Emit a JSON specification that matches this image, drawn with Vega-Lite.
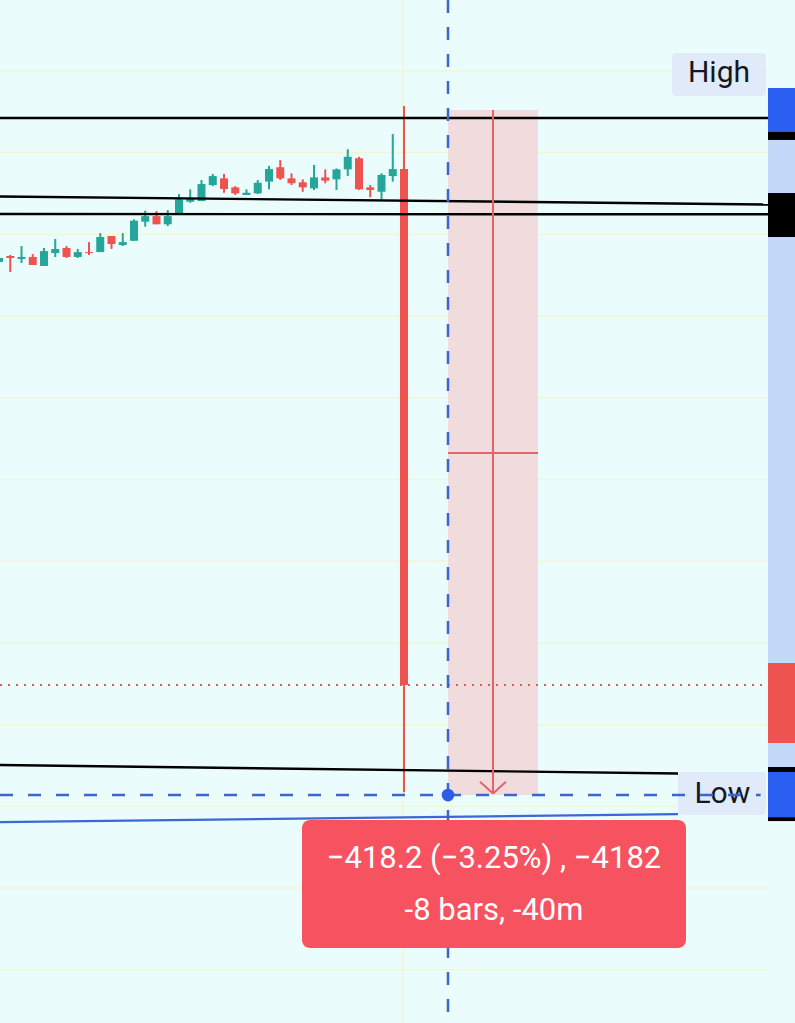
{
  "$schema": "https://vega.github.io/schema/vega-lite/v6.json",
  "width": 795,
  "height": 1023,
  "autosize": {"type": "none"},
  "padding": 0,
  "background": "#ebfcfc",
  "config": {"view": {"stroke": null}, "font": "Roboto"},
  "datasets": {
    "candles": [
      {"i": -36, "o": 12783.1, "h": 12786.8, "l": 12782.5, "c": 12785.6},
      {"i": -35, "o": 12786.8, "h": 12787.4, "l": 12777.0, "c": 12785.6},
      {"i": -34, "o": 12785.0, "h": 12792.9, "l": 12782.5, "c": 12786.2},
      {"i": -33, "o": 12786.2, "h": 12788.0, "l": 12781.3, "c": 12781.3},
      {"i": -32, "o": 12780.7, "h": 12791.7, "l": 12780.7, "c": 12789.8},
      {"i": -31, "o": 12788.6, "h": 12797.2, "l": 12786.2, "c": 12791.1},
      {"i": -30, "o": 12791.7, "h": 12792.9, "l": 12785.6, "c": 12786.2},
      {"i": -29, "o": 12786.2, "h": 12791.1, "l": 12785.6, "c": 12789.2},
      {"i": -28, "o": 12789.2, "h": 12795.3, "l": 12787.4, "c": 12788.6},
      {"i": -27, "o": 12789.2, "h": 12800.8, "l": 12789.2, "c": 12798.4},
      {"i": -26, "o": 12799.0, "h": 12799.0, "l": 12791.1, "c": 12794.1},
      {"i": -25, "o": 12793.5, "h": 12800.8, "l": 12792.9, "c": 12795.3},
      {"i": -24, "o": 12796.1, "h": 12809.2, "l": 12796.1, "c": 12808.4},
      {"i": -23, "o": 12807.8, "h": 12814.5, "l": 12804.7, "c": 12811.2},
      {"i": -22, "o": 12811.2, "h": 12814.3, "l": 12806.2, "c": 12806.2},
      {"i": -21, "o": 12806.2, "h": 12814.9, "l": 12805.1, "c": 12811.2},
      {"i": -20, "o": 12812.9, "h": 12824.7, "l": 12812.9, "c": 12821.5},
      {"i": -19, "o": 12820.0, "h": 12827.6, "l": 12819.4, "c": 12822.1},
      {"i": -18, "o": 12820.4, "h": 12833.3, "l": 12820.4, "c": 12830.8},
      {"i": -17, "o": 12830.2, "h": 12837.0, "l": 12829.6, "c": 12835.7},
      {"i": -16, "o": 12834.3, "h": 12837.0, "l": 12825.5, "c": 12827.8},
      {"i": -15, "o": 12828.8, "h": 12829.6, "l": 12824.1, "c": 12825.1},
      {"i": -14, "o": 12824.1, "h": 12827.6, "l": 12824.1, "c": 12825.5},
      {"i": -13, "o": 12825.1, "h": 12833.3, "l": 12824.7, "c": 12831.6},
      {"i": -12, "o": 12832.3, "h": 12841.9, "l": 12827.6, "c": 12840.0},
      {"i": -11, "o": 12841.1, "h": 12845.5, "l": 12833.3, "c": 12834.3},
      {"i": -10, "o": 12834.3, "h": 12837.4, "l": 12830.2, "c": 12831.3},
      {"i": -9, "o": 12831.9, "h": 12833.7, "l": 12826.1, "c": 12828.8},
      {"i": -8, "o": 12828.2, "h": 12842.5, "l": 12827.2, "c": 12834.9},
      {"i": -7, "o": 12834.9, "h": 12839.8, "l": 12831.3, "c": 12832.9},
      {"i": -6, "o": 12833.7, "h": 12840.4, "l": 12827.2, "c": 12839.8},
      {"i": -5, "o": 12839.8, "h": 12852.1, "l": 12835.7, "c": 12847.5},
      {"i": -4, "o": 12846.6, "h": 12847.5, "l": 12827.2, "c": 12827.6},
      {"i": -3, "o": 12828.8, "h": 12830.2, "l": 12822.7, "c": 12827.2},
      {"i": -2, "o": 12826.1, "h": 12837.4, "l": 12821.5, "c": 12836.4},
      {"i": -1, "o": 12835.7, "h": 12861.4, "l": 12832.3, "c": 12840.0},
      {"i": 0, "o": 12840.0, "h": 12878.6, "l": 12458.7, "c": 12524.2}
    ],
    "grid": [
      {"p": 12900}, {"p": 12850}, {"p": 12800}, {"p": 12750}, {"p": 12700}, {"p": 12650},
      {"p": 12600}, {"p": 12550}, {"p": 12500}, {"p": 12450}, {"p": 12400}, {"p": 12350}
    ],
    "trend": [
      {"line": "a", "i": -35.911, "p": 12871.2, "i2": 32.356, "p2": 12871.2},
      {"line": "b", "i": -35.911, "p": 12823.2, "i2": 32.356, "p2": 12818.3},
      {"line": "c", "i": -35.911, "p": 12812.5, "i2": 32.356, "p2": 12812.3},
      {"line": "d", "i": -35.911, "p": 12475.3, "i2": 24.356, "p2": 12470.1}
    ],
    "measure": [
      {"part": "stem", "i": 7.911, "p": 12876.1, "i2": 7.911, "p2": 12457.9},
      {"part": "mid", "i": 3.911, "p": 12666.2, "i2": 11.911, "p2": 12666.2},
      {"part": "arrowL", "i": 6.756, "p": 12465.0, "i2": 7.911, "p2": 12457.9},
      {"part": "arrowR", "i": 9.067, "p": 12465.0, "i2": 7.911, "p2": 12457.9}
    ],
    "scale": [
      {"part": "track", "i": 32.356, "i2": 34.756, "p": 12889.6, "p2": 12441.0},
      {"part": "high", "i": 32.356, "i2": 34.756, "p": 12889.6, "p2": 12862.7},
      {"part": "black", "i": 32.356, "i2": 34.756, "p": 12862.7, "p2": 12857.8},
      {"part": "black", "i": 32.356, "i2": 34.756, "p": 12825.3, "p2": 12798.4},
      {"part": "close", "i": 32.356, "i2": 34.756, "p": 12537.7, "p2": 12488.7},
      {"part": "black", "i": 32.356, "i2": 34.756, "p": 12474.1, "p2": 12471.0},
      {"part": "low", "i": 32.356, "i2": 34.756, "p": 12471.0, "p2": 12443.4},
      {"part": "black", "i": 32.356, "i2": 34.756, "p": 12443.4, "p2": 12441.0}
    ],
    "tags": [
      {"label": "High", "i": 23.822, "i2": 32.178, "p": 12911.0, "p2": 12884.7, "ti": 28.0, "tp": 12898.5},
      {"label": "Low", "i": 24.356, "i2": 32.178, "p": 12471.0, "p2": 12444.7, "ti": 28.3, "tp": 12457.5}
    ],
    "info": [
      {"i": -9.067, "i2": 25.067, "p": 12441.6, "p2": 12363.3}
    ],
    "infoText": [
      {"text": "−418.2 (−3.25%) , −4182", "i": 8.0, "p": 12417.7},
      {"text": "-8 bars, -40m", "i": 8.0, "p": 12385.9}
    ]
  },
  "layer": [
    {
      "data": {"name": "grid"},
      "mark": {"type": "rule", "color": "#f1f6d3", "strokeWidth": 1.5},
      "encoding": {
        "y": {"field": "p", "type": "quantitative", "scale": {"domain": [12317.43, 12943.45], "nice": false, "zero": false, "padding": 0}, "axis": null},
        "x": {"datum": -35.911, "type": "quantitative", "scale": {"domain": [-35.911, 34.756], "nice": false, "zero": false, "padding": 0}, "axis": null},
        "x2": {"datum": 32.356}
      }
    },
    {
      "data": {"values": [{"i": -0.09}]},
      "mark": {"type": "rule", "color": "#f1f4d6", "strokeWidth": 1.5},
      "encoding": {
        "x": {"field": "i", "type": "quantitative"},
        "y": {"datum": 12317.43, "type": "quantitative"},
        "y2": {"datum": 12943.45}
      }
    },
    {
      "data": {"values": [{"i": 3.911, "i2": 11.911, "p": 12876.1, "p2": 12456.9}]},
      "mark": {"type": "rect", "color": "#f0dcdc"},
      "encoding": {
        "x": {"field": "i", "type": "quantitative"},
        "x2": {"field": "i2"},
        "y": {"field": "p", "type": "quantitative"},
        "y2": {"field": "p2"}
      }
    },
    {
      "data": {"name": "candles"},
      "mark": {"type": "rule", "strokeWidth": 2},
      "encoding": {
        "x": {"field": "i", "type": "quantitative"},
        "y": {"field": "l", "type": "quantitative"},
        "y2": {"field": "h"},
        "color": {"condition": {"test": "datum.c >= datum.o", "value": "#26a69a"}, "value": "#ef5350"}
      }
    },
    {
      "data": {"name": "candles"},
      "mark": {"type": "bar", "size": 8},
      "encoding": {
        "x": {"field": "i", "type": "quantitative"},
        "y": {"field": "o", "type": "quantitative"},
        "y2": {"field": "c"},
        "color": {"condition": {"test": "datum.c >= datum.o", "value": "#26a69a"}, "value": "#ef5350"}
      }
    },
    {
      "data": {"name": "trend"},
      "mark": {"type": "rule", "color": "#000000", "strokeWidth": 2.4},
      "encoding": {
        "x": {"field": "i", "type": "quantitative"},
        "x2": {"field": "i2"},
        "y": {"field": "p", "type": "quantitative"},
        "y2": {"field": "p2"}
      }
    },
    {
      "data": {"values": [{"i": -35.911, "p": 12440.4, "i2": 24.356, "p2": 12445.3}]},
      "mark": {"type": "rule", "color": "#3a68d4", "strokeWidth": 2.2},
      "encoding": {
        "x": {"field": "i", "type": "quantitative"},
        "x2": {"field": "i2"},
        "y": {"field": "p", "type": "quantitative"},
        "y2": {"field": "p2"}
      }
    },
    {
      "data": {"values": [{"i": -35.911, "i2": 32.356, "p": 12524.2}]},
      "mark": {"type": "rule", "color": "#e0575c", "strokeWidth": 2, "strokeDash": [2, 6]},
      "encoding": {
        "x": {"field": "i", "type": "quantitative"},
        "x2": {"field": "i2"},
        "y": {"field": "p", "type": "quantitative"}
      }
    },
    {
      "data": {"name": "measure"},
      "mark": {"type": "rule", "color": "#e6616a", "strokeWidth": 2},
      "encoding": {
        "x": {"field": "i", "type": "quantitative"},
        "x2": {"field": "i2"},
        "y": {"field": "p", "type": "quantitative"},
        "y2": {"field": "p2"}
      }
    },
    {
      "data": {"name": "scale"},
      "mark": {"type": "rect"},
      "encoding": {
        "x": {"field": "i", "type": "quantitative"},
        "x2": {"field": "i2"},
        "y": {"field": "p", "type": "quantitative"},
        "y2": {"field": "p2"},
        "color": {
          "field": "part",
          "type": "nominal",
          "scale": {"domain": ["track", "high", "black", "close", "low"], "range": ["#c3d9fa", "#2a5ff2", "#000000", "#ef5350", "#2a5ff2"]},
          "legend": null
        }
      }
    },
    {
      "data": {"name": "tags"},
      "mark": {"type": "rect", "color": "#e1eaf8", "cornerRadius": 4},
      "encoding": {
        "x": {"field": "i", "type": "quantitative"},
        "x2": {"field": "i2"},
        "y": {"field": "p", "type": "quantitative"},
        "y2": {"field": "p2"}
      }
    },
    {
      "data": {"name": "tags"},
      "mark": {"type": "text", "color": "#131722", "fontSize": 30, "font": "Roboto", "baseline": "middle", "align": "center"},
      "encoding": {
        "x": {"field": "ti", "type": "quantitative"},
        "y": {"field": "tp", "type": "quantitative"},
        "text": {"field": "label"}
      }
    },
    {
      "data": {"values": [{"i": -35.911, "i2": 31.7, "p": 12456.9}]},
      "mark": {"type": "rule", "color": "#3d66cc", "strokeWidth": 2.5, "strokeDash": [13, 15]},
      "encoding": {
        "x": {"field": "i", "type": "quantitative"},
        "x2": {"field": "i2"},
        "y": {"field": "p", "type": "quantitative"}
      }
    },
    {
      "data": {"values": [{"i": 3.911}]},
      "mark": {"type": "rule", "color": "#3d66cc", "strokeWidth": 2.5, "strokeDash": [13, 14]},
      "encoding": {
        "x": {"field": "i", "type": "quantitative"},
        "y": {"datum": 12943.45, "type": "quantitative"},
        "y2": {"datum": 12317.43}
      }
    },
    {
      "data": {"values": [{"i": 3.911, "p": 12456.9}]},
      "mark": {"type": "point", "filled": true, "opacity": 1, "size": 160, "color": "#2d5ce6"},
      "encoding": {
        "x": {"field": "i", "type": "quantitative"},
        "y": {"field": "p", "type": "quantitative"}
      }
    },
    {
      "data": {"name": "info"},
      "mark": {"type": "rect", "color": "#f7525f", "cornerRadius": 8},
      "encoding": {
        "x": {"field": "i", "type": "quantitative"},
        "x2": {"field": "i2"},
        "y": {"field": "p", "type": "quantitative"},
        "y2": {"field": "p2"}
      }
    },
    {
      "data": {"name": "infoText"},
      "mark": {"type": "text", "color": "#ffffff", "fontSize": 31, "font": "Roboto", "baseline": "middle", "align": "center"},
      "encoding": {
        "x": {"field": "i", "type": "quantitative"},
        "y": {"field": "p", "type": "quantitative"},
        "text": {"field": "text"}
      }
    }
  ]
}
